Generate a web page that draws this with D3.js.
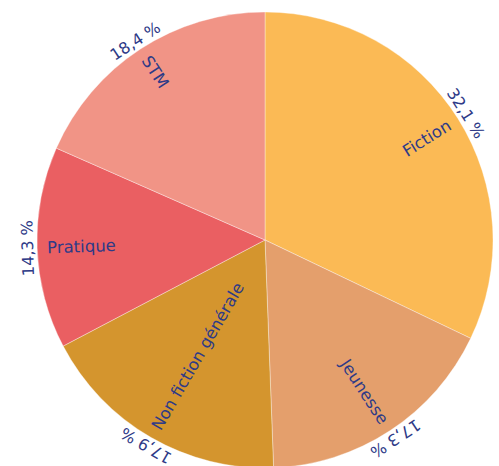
<!DOCTYPE html>
<html>
<head>
<meta charset="utf-8">
<script src="https://cdn.jsdelivr.net/npm/d3@7"></script>
<style>
  body { margin: 0; background: #fff; }
  svg { display: block; }
  .label { font-family: 'DejaVu Sans', sans-serif; fill: #2e3a87; }
  .cat { font-size: 16.5px; }
  .pct { font-size: 16px; }
</style>
</head>
<body>
<div id="vis"></div>
<script>
const FRAME_WIDTH = 499;
const FRAME_HEIGHT = 466;
const CENTER = { x: 265, y: 240 };
const RADIUS = 228;

// shares of each category, clockwise from the top
const categories = ['Fiction', 'Jeunesse', 'Non fiction générale', 'Pratique', 'STM'];
const shares = [32.1, 17.3, 17.9, 14.3, 18.4];
const colors = ['#fbba55', '#e49f6c', '#d4952e', '#ea5f62', '#f19486'];

const data = categories.map((c, i) => ({ category: c, value: shares[i] }));

const FRAME = d3
  .select('#vis')
  .append('svg')
  .attr('width', FRAME_WIDTH)
  .attr('height', FRAME_HEIGHT);

const G = FRAME.append('g').attr('transform', 'translate(' + CENTER.x + ',' + CENTER.y + ')');

const COLOR = d3.scaleOrdinal().domain(categories).range(colors);

const pie = d3.pie().sort(null).value((d) => d.value);
const arc = d3.arc().innerRadius(0).outerRadius(RADIUS);
const arcs = pie(data);

G.selectAll('.slice')
  .data(arcs)
  .enter()
  .append('path')
  .attr('class', 'slice')
  .attr('d', arc)
  .attr('fill', (d) => COLOR(d.data.category))
  .attr('stroke', '#fff')
  .attr('stroke-opacity', 0.6)
  .attr('stroke-width', 0.6);

const midDeg = (d) => ((d.startAngle + d.endAngle) / 2) * 180 / Math.PI;
const fmt = (v) => v.toFixed(1).replace('.', ',') + ' %';

// category names: radial, ending near the rim
G.selectAll('.cat')
  .data(arcs)
  .enter()
  .append('text')
  .attr('class', 'label cat')
  .attr('transform', (d) => {
    const a = midDeg(d);
    const rad = (a * Math.PI) / 180;
    const r = 218;
    const x = r * Math.sin(rad);
    const y = -r * Math.cos(rad);
    const rot = a < 180 ? a - 90 : a + 90;
    return 'translate(' + x + ',' + y + ') rotate(' + rot + ')';
  })
  .attr('text-anchor', (d) => (midDeg(d) < 180 ? 'end' : 'start'))
  .attr('dy', '0.35em')
  .text((d) => d.data.category);

// percentages: tangential, just outside the rim
G.selectAll('.pct')
  .data(arcs)
  .enter()
  .append('text')
  .attr('class', 'label pct')
  .attr('transform', (d) => {
    const a = midDeg(d);
    const rad = (a * Math.PI) / 180;
    const r = RADIUS + 4;
    return 'translate(' + r * Math.sin(rad) + ',' + -r * Math.cos(rad) + ') rotate(' + a + ')';
  })
  .attr('text-anchor', 'middle')
  .text((d) => fmt(d.data.value));
</script>
</body>
</html>
